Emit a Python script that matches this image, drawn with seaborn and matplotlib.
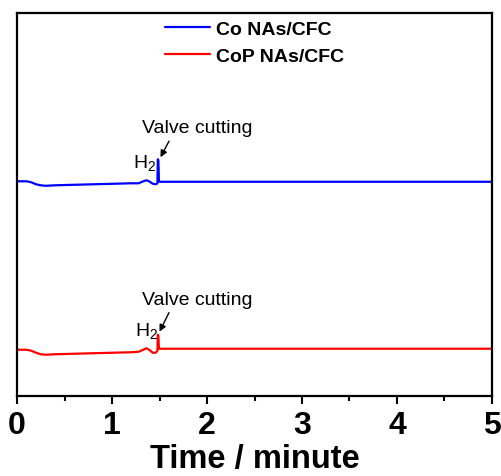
import matplotlib
matplotlib.use("Agg")
import matplotlib.pyplot as plt
import seaborn as sns
import pandas as pd
import numpy as np

# ---- data (signal in arbitrary units) ----
time_co = [0.0, 0.10, 0.15, 0.20, 0.25, 0.30, 0.40, 0.60, 0.80, 1.00, 1.20, 1.28, 1.33,
           1.36, 1.39, 1.43, 1.46, 1.478, 1.482, 1.488, 1.494, 1.505, 1.6, 2.0, 3.0, 4.0, 5.0]
signal_co = [214, 214, 213, 211, 210, 209.5, 210, 210.5, 211, 211.5, 212, 212, 214,
             215, 214, 211.5, 211, 212, 236, 235, 214, 213.5, 213.5, 213.5, 213.5, 213.5, 213.5]
time_cop = time_co
signal_cop = [46, 46, 45, 43, 41.5, 41, 41.5, 42, 42.5, 43, 43.5, 44, 46,
              47.5, 46, 43, 43, 45, 61, 60, 47, 47, 47, 47, 47, 47, 47]
series_names = ["Co NAs/CFC", "CoP NAs/CFC"]
series_colors = ["#0000FF", "#FF0000"]
x_ticks = [0, 1, 2, 3, 4, 5]

df = pd.concat([
    pd.DataFrame({"Time": time_co, "Signal": signal_co, "Sample": series_names[0]}),
    pd.DataFrame({"Time": time_cop, "Signal": signal_cop, "Sample": series_names[1]}),
])

sns.set_theme(style="white")
plt.rcParams["font.family"] = ["Liberation Sans", "DejaVu Sans"]
plt.rcParams["mathtext.fontset"] = "custom"
plt.rcParams["mathtext.rm"] = "Liberation Sans"
plt.rcParams["mathtext.it"] = "Liberation Sans"
plt.rcParams["text.color"] = "black"
plt.rcParams["axes.labelcolor"] = "black"
plt.rcParams["xtick.color"] = "black"
plt.rcParams["ytick.color"] = "black"

fig = plt.figure(figsize=(5.01, 4.77), dpi=100)
ax = fig.add_axes([0.034, 0.168, 0.948, 0.803])

sns.lineplot(data=df, x="Time", y="Signal", hue="Sample", palette=series_colors,
             hue_order=series_names, linewidth=1.6, ax=ax, legend=True, sort=False,
             estimator=None)

ax.set_xlim(0, 5)
ax.set_ylim(0, 382)
ax.set_yticks([])
ax.set_xticks(x_ticks)
ax.set_xticks(np.arange(0.5, 5, 1.0), minor=True)
ax.set_xticklabels([str(t) for t in x_ticks], fontsize=23, fontweight="bold")
ax.tick_params(axis="x", which="major", direction="out", length=6, width=1.5, pad=4.5,
               bottom=True, colors="black")
ax.tick_params(axis="x", which="minor", direction="out", length=3.5, width=1.5, bottom=True)
ax.set_xlabel("Time / minute", fontsize=23.5, fontweight="bold", labelpad=1.5, color="black")
ax.set_ylabel("")
for s in ax.spines.values():
    s.set_linewidth(1.6)
    s.set_color("black")
    s.set_visible(True)

handles, labels = ax.get_legend_handles_labels()
leg = ax.legend(handles, labels, loc="upper center", bbox_to_anchor=(0.5, 1.0),
                frameon=False, handlelength=2.3, handletextpad=0.3, labelspacing=0.45,
                prop={"weight": "bold", "size": 14}, borderaxespad=0.0, labelcolor="black")

# annotations
for (tx, ty, hx, hy, ax0, ay0, ax1, ay1) in [
        (1.32, 268, 1.34, 233, 1.60, 254, 1.51, 238),
        (1.32, 96, 1.36, 66, 1.60, 83, 1.50, 64)]:
    ax.text(tx, ty, "Valve cutting", fontsize=14, ha="left", va="center", color="black")
    ax.text(hx, hy, "H$_2$", fontsize=14, ha="center", va="center", color="black")
    ax.annotate("", xy=(ax1, ay1), xytext=(ax0, ay0),
                arrowprops=dict(arrowstyle="-|>", color="black", lw=1.0,
                                mutation_scale=10, shrinkA=0, shrinkB=0))

fig.savefig("out.png", dpi=100)
